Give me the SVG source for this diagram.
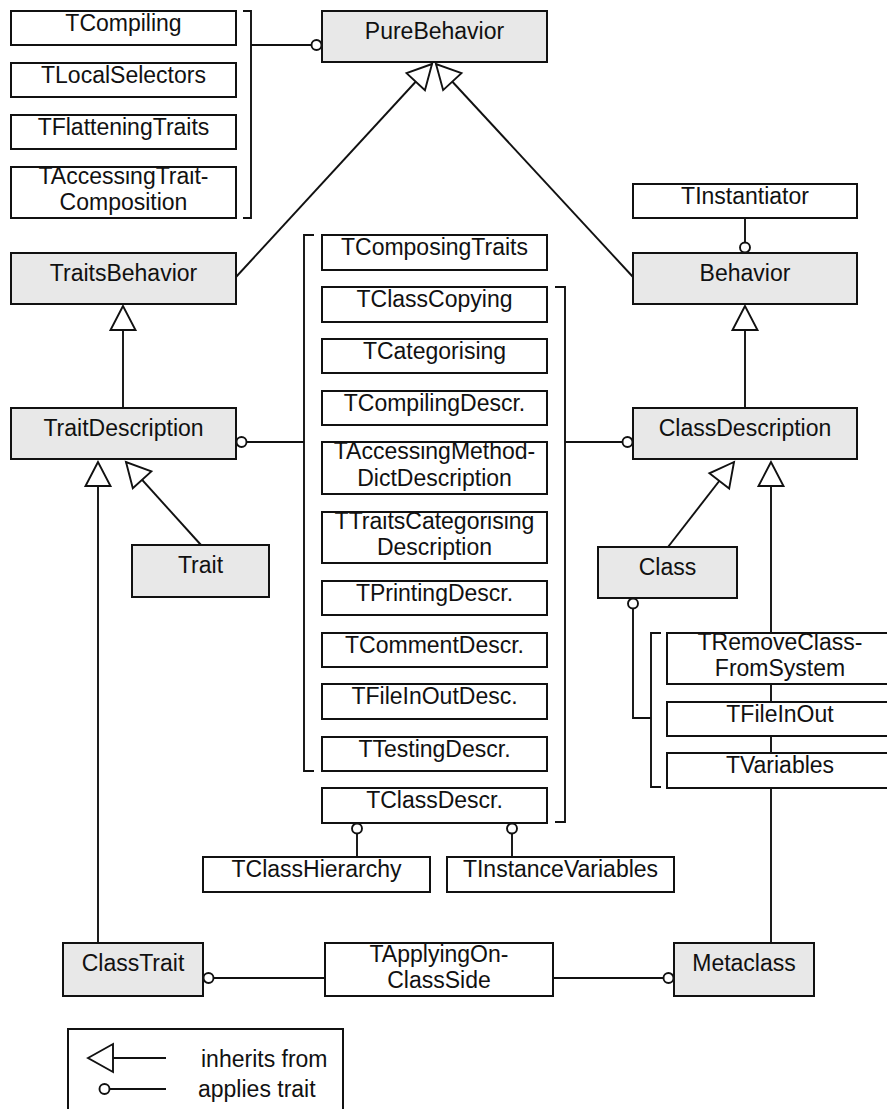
<svg xmlns="http://www.w3.org/2000/svg" width="887" height="1109" viewBox="0 0 887 1109">
  <style>
    .cls rect { fill: #e8e8e8; stroke: #111; stroke-width: 2; }
    .trt rect { fill: #fff; stroke: #111; stroke-width: 2; }
    text { font-family: "Liberation Sans", Arial, Helvetica, sans-serif; font-size: 23px; fill: #111; text-anchor: middle; }
    .ln { fill: none; stroke: #111; stroke-width: 1.9; }
    .inh { marker-end: url(#hollowTri); }
    .app { marker-end: url(#ring); }
  </style>
  <defs>
    <marker id="hollowTri" markerUnits="userSpaceOnUse" markerWidth="30" markerHeight="30" viewBox="-26 -15 28 30" refX="0" refY="0" orient="auto" overflow="visible">
      <path d="M0,0 L-24,-12.5 L-24,12.5 Z" fill="#fff" stroke="#111" stroke-width="1.9"/>
    </marker>
    <marker id="ring" markerUnits="userSpaceOnUse" markerWidth="14" markerHeight="14" viewBox="-12 -7 14 14" refX="0" refY="0" orient="auto" overflow="visible">
      <circle cx="-5.5" cy="0" r="5" fill="#fff" stroke="#111" stroke-width="1.9"/>
    </marker>
  </defs>

  <!-- connectors -->
  <g id="connectors">
    <!-- brackets grouping traits -->
    <path class="ln" d="M243,11 H251 V218 H243"/>
    <path class="ln" d="M314,235 H304 V771 H314"/>
    <path class="ln" d="M555,287 H565 V822 H555"/>
    <path class="ln" d="M661,633 H651 V787 H661"/>
    <!-- inheritance -->
    <path class="ln inh" d="M236,277 L432,64"/>
    <path class="ln inh" d="M633,277 L436,64"/>
    <path class="ln inh" d="M123,408 V306"/>
    <path class="ln inh" d="M745,408 V306"/>
    <path class="ln inh" d="M98,943 V462"/>
    <path class="ln inh" d="M201,545 L126,462"/>
    <path class="ln inh" d="M668,547 L734,462"/>
    <path class="ln inh" d="M771,943 V462"/>
    <!-- trait application -->
    <path class="ln app" d="M251,45 H322"/>
    <path class="ln app" d="M745,218 V253"/>
    <path class="ln app" d="M304,442 H236"/>
    <path class="ln app" d="M565,442 H633"/>
    <path class="ln app" d="M357,857 V823"/>
    <path class="ln app" d="M512,857 V823"/>
    <path class="ln app" d="M651,718 H633 V598"/>
    <path class="ln app" d="M325,978 H203"/>
    <path class="ln app" d="M553,978 H674"/>
  </g>

  <!-- classes -->
  <g id="PureBehavior" class="cls"><rect x="322" y="11" width="225" height="51"/><text x="434.5" y="39">PureBehavior</text></g>
  <g id="TraitsBehavior" class="cls"><rect x="11" y="253" width="225" height="51"/><text x="123.5" y="281">TraitsBehavior</text></g>
  <g id="Behavior" class="cls"><rect x="633" y="253" width="224" height="51"/><text x="745" y="281">Behavior</text></g>
  <g id="TraitDescription" class="cls"><rect x="11" y="408" width="225" height="51"/><text x="123.5" y="436">TraitDescription</text></g>
  <g id="ClassDescription" class="cls"><rect x="633" y="408" width="224" height="51"/><text x="745" y="436">ClassDescription</text></g>
  <g id="Trait" class="cls"><rect x="132" y="545" width="137" height="52"/><text x="200.5" y="573">Trait</text></g>
  <g id="Class" class="cls"><rect x="598" y="547" width="139" height="51"/><text x="667.5" y="575">Class</text></g>
  <g id="ClassTrait" class="cls"><rect x="63" y="943" width="140" height="53"/><text x="133" y="971">ClassTrait</text></g>
  <g id="Metaclass" class="cls"><rect x="674" y="943" width="140" height="53"/><text x="744" y="971">Metaclass</text></g>

  <!-- traits -->
  <g id="TCompiling" class="trt"><rect x="11" y="11" width="225" height="34"/><text x="123.5" y="31">TCompiling</text></g>
  <g id="TLocalSelectors" class="trt"><rect x="11" y="63" width="225" height="34"/><text x="123.5" y="83">TLocalSelectors</text></g>
  <g id="TFlatteningTraits" class="trt"><rect x="11" y="115" width="225" height="34"/><text x="123.5" y="135">TFlatteningTraits</text></g>
  <g id="TAccessingTraitComposition" class="trt"><rect x="11" y="167" width="225" height="51"/><text x="123.5" y="184">TAccessingTrait-</text><text x="123.5" y="210">Composition</text></g>
  <g id="TInstantiator" class="trt"><rect x="633" y="184" width="224" height="34"/><text x="745" y="204">TInstantiator</text></g>

  <g id="TComposingTraits" class="trt"><rect x="322" y="235" width="225" height="35"/><text x="434.5" y="255">TComposingTraits</text></g>
  <g id="TClassCopying" class="trt"><rect x="322" y="287" width="225" height="35"/><text x="434.5" y="307">TClassCopying</text></g>
  <g id="TCategorising" class="trt"><rect x="322" y="339" width="225" height="34"/><text x="434.5" y="359">TCategorising</text></g>
  <g id="TCompilingDescr" class="trt"><rect x="322" y="391" width="225" height="34"/><text x="434.5" y="411">TCompilingDescr.</text></g>
  <g id="TAccessingMethodDictDescription" class="trt"><rect x="322" y="442" width="225" height="52"/><text x="434.5" y="459">TAccessingMethod-</text><text x="434.5" y="486">DictDescription</text></g>
  <g id="TTraitsCategorisingDescription" class="trt"><rect x="322" y="512" width="225" height="51"/><text x="434.5" y="529">TTraitsCategorising</text><text x="434.5" y="555">Description</text></g>
  <g id="TPrintingDescr" class="trt"><rect x="322" y="581" width="225" height="34"/><text x="434.5" y="601">TPrintingDescr.</text></g>
  <g id="TCommentDescr" class="trt"><rect x="322" y="633" width="225" height="34"/><text x="434.5" y="653">TCommentDescr.</text></g>
  <g id="TFileInOutDesc" class="trt"><rect x="322" y="684" width="225" height="35"/><text x="434.5" y="704">TFileInOutDesc.</text></g>
  <g id="TTestingDescr" class="trt"><rect x="322" y="737" width="225" height="34"/><text x="434.5" y="757">TTestingDescr.</text></g>
  <g id="TClassDescr" class="trt"><rect x="322" y="788" width="225" height="35"/><text x="434.5" y="808">TClassDescr.</text></g>
  <g id="TClassHierarchy" class="trt"><rect x="203" y="857" width="227" height="35"/><text x="316.5" y="877">TClassHierarchy</text></g>
  <g id="TInstanceVariables" class="trt"><rect x="447" y="857" width="227" height="35"/><text x="560.5" y="877">TInstanceVariables</text></g>

  <g id="TRemoveClassFromSystem" class="trt"><rect x="667" y="633" width="226" height="51"/><text x="780" y="650">TRemoveClass-</text><text x="780" y="676">FromSystem</text></g>
  <g id="TFileInOut" class="trt"><rect x="667" y="702" width="226" height="34"/><text x="780" y="722">TFileInOut</text></g>
  <g id="TVariables" class="trt"><rect x="667" y="753" width="226" height="35"/><text x="780" y="773">TVariables</text></g>

  <g id="TApplyingOnClassSide" class="trt"><rect x="325" y="943" width="228" height="53"/><text x="439" y="962">TApplyingOn-</text><text x="439" y="988">ClassSide</text></g>

  <!-- legend -->
  <g id="legend">
    <rect x="68" y="1029" width="275" height="100" fill="#fff" stroke="#111" stroke-width="2"/>
    <path class="ln" d="M166,1058 H113"/>
    <path d="M88,1058 L113,1044 L113,1072 Z" fill="#fff" stroke="#111" stroke-width="1.9"/>
    <path class="ln" d="M166,1089 H110"/>
    <circle cx="104.5" cy="1089" r="5" fill="#fff" stroke="#111" stroke-width="1.9"/>
    <text x="201" y="1067" style="text-anchor:start">inherits from</text>
    <text x="198" y="1097" style="text-anchor:start">applies trait</text>
  </g>
</svg>
